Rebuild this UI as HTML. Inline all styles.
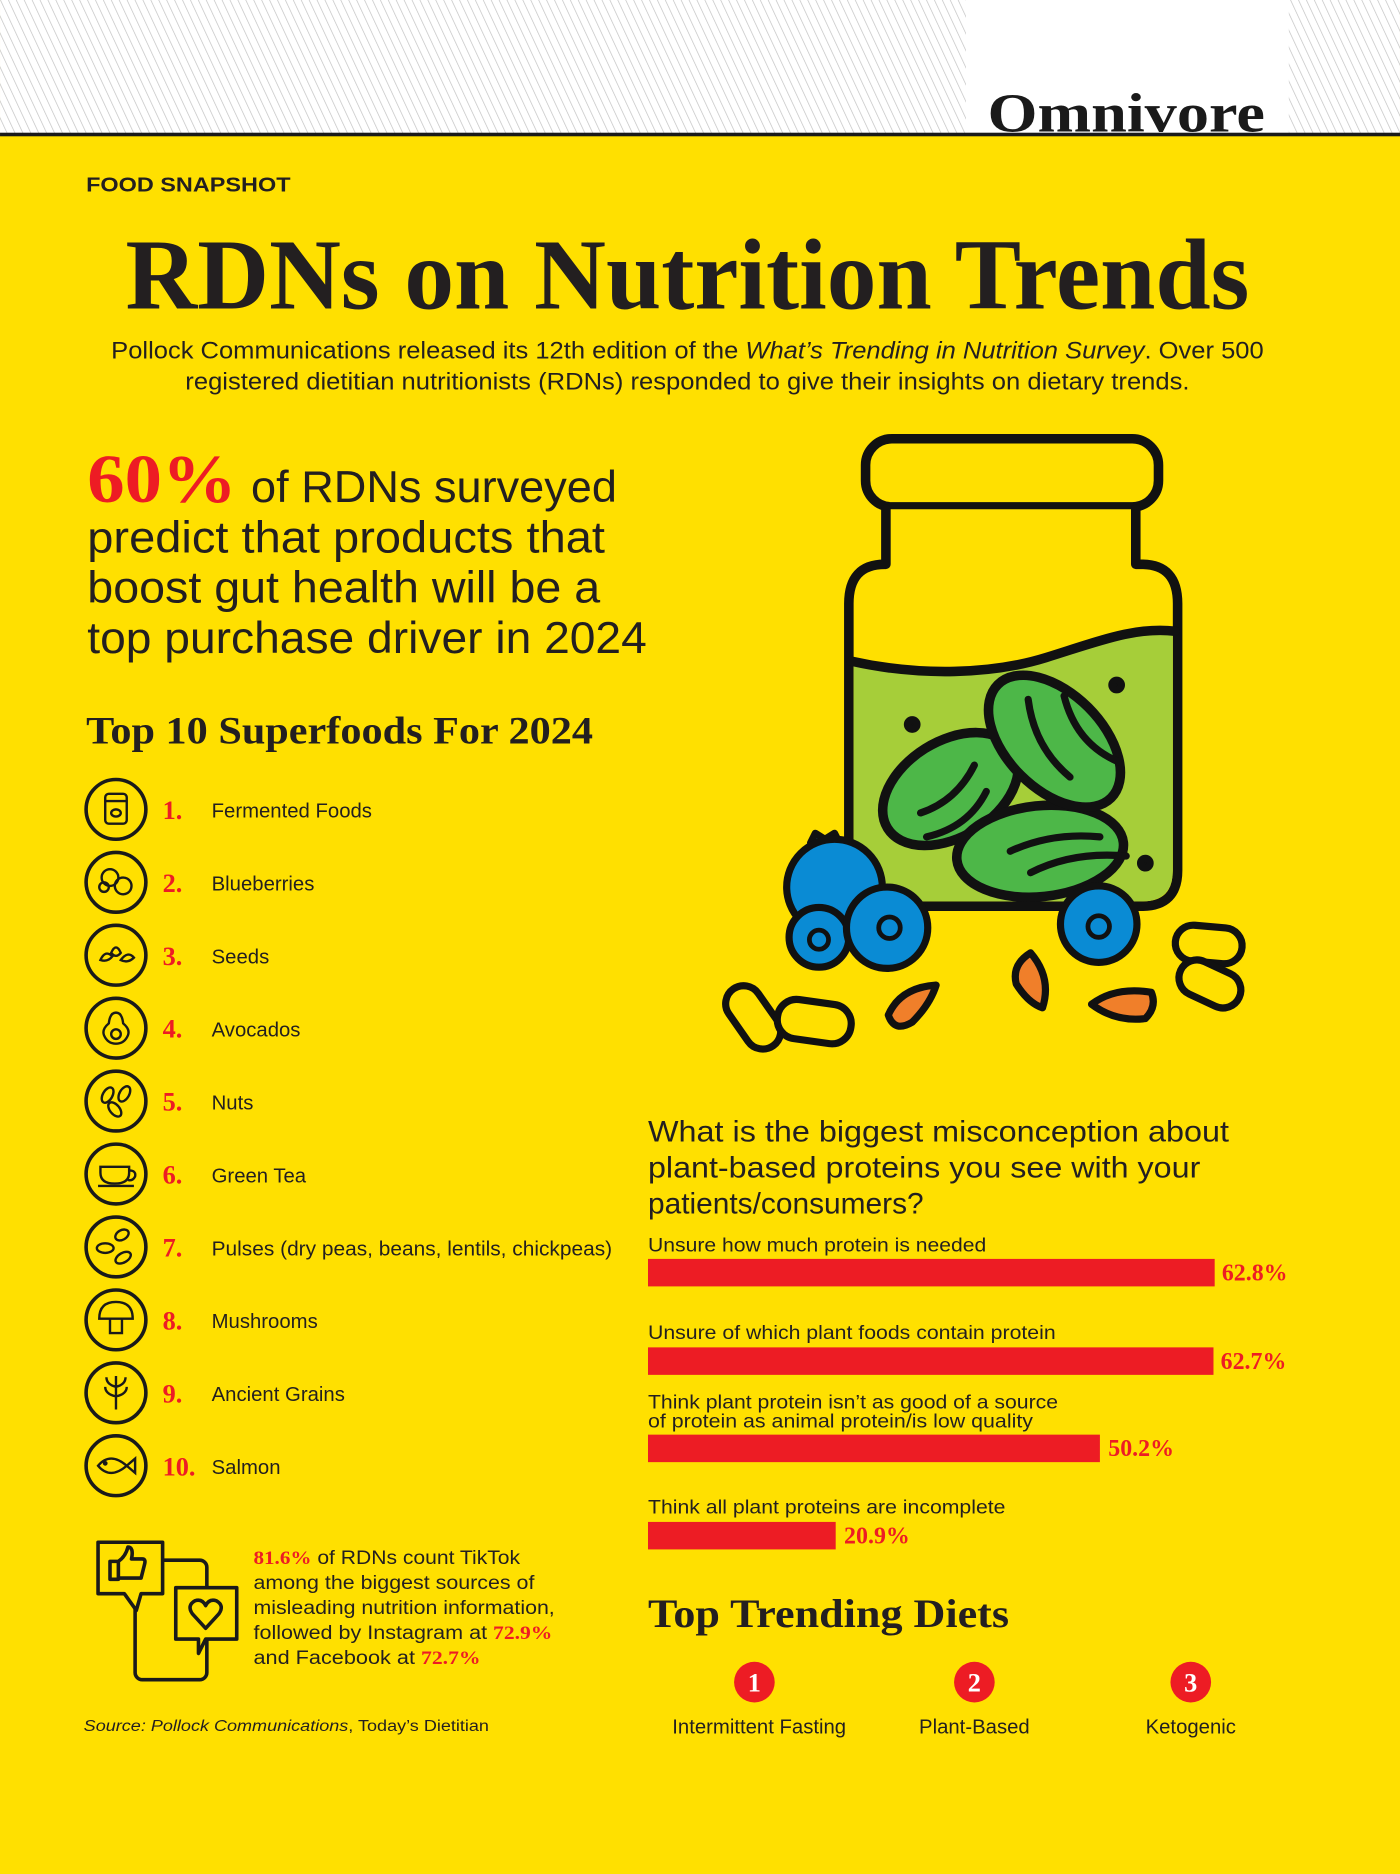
<!DOCTYPE html>
<html><head><meta charset="utf-8"><style>
html,body{margin:0;padding:0;background:#FFE000;}
svg{display:block}
.s{font-family:"Liberation Sans",sans-serif;fill:#231f20}
.sf{font-family:"Liberation Serif",serif;font-weight:bold}
.r{fill:#ED1C24}
</style></head><body>
<svg width="1400" height="1874" viewBox="0 0 1171 1567.5" xmlns="http://www.w3.org/2000/svg">
<defs>
<pattern id="st" width="6" height="6" patternUnits="userSpaceOnUse" patternTransform="rotate(-25)">
<rect width="6" height="6" fill="#fff"/><line x1="0" y1="0" x2="0" y2="6" stroke="#c4c4c4" stroke-width="1.2"/>
</pattern>
</defs>
<rect width="1171" height="1568" fill="#FFE000"/>
<rect width="1171" height="112" fill="url(#st)"/>
<rect x="808" y="0" width="270" height="112" fill="#fff"/>
<text x="826" y="110" class="sf" font-size="46" fill="#1a1a1a" textLength="232" lengthAdjust="spacingAndGlyphs">Omnivore</text>
<rect x="0" y="111" width="1171" height="3" fill="#1a1a1a"/>

<text x="72" y="160" class="s" font-size="17" font-weight="bold" textLength="171" lengthAdjust="spacingAndGlyphs">FOOD SNAPSHOT</text>
<text x="105" y="258" class="sf" font-size="84" fill="#231f20" textLength="940" lengthAdjust="spacingAndGlyphs">RDNs on Nutrition Trends</text>
<text x="93" y="300" class="s" font-size="20" textLength="964" lengthAdjust="spacingAndGlyphs">Pollock Communications released its 12th edition of the <tspan font-style="italic">What’s Trending in Nutrition Survey</tspan>. Over 500</text>
<text x="155" y="326" class="s" font-size="20" textLength="840" lengthAdjust="spacingAndGlyphs">registered dietitian nutritionists (RDNs) responded to give their insights on dietary trends.</text>

<text x="73" y="420" class="sf r" font-size="58" textLength="125" lengthAdjust="spacingAndGlyphs">60%</text>
<text x="210" y="420" class="s" font-size="37" textLength="306" lengthAdjust="spacingAndGlyphs">of RDNs surveyed</text>
<text x="73" y="462" class="s" font-size="37" textLength="433" lengthAdjust="spacingAndGlyphs">predict that products that</text>
<text x="73" y="504" class="s" font-size="37" textLength="429" lengthAdjust="spacingAndGlyphs">boost gut health will be a</text>
<text x="73" y="546" class="s" font-size="37" textLength="468" lengthAdjust="spacingAndGlyphs">top purchase driver in 2024</text>

<text x="72" y="622" class="sf" font-size="33" fill="#231f20" textLength="424" lengthAdjust="spacingAndGlyphs">Top 10 Superfoods For 2024</text>

<g stroke="#1a1a1a" stroke-width="3" fill="none">
<circle cx="97" cy="677" r="25"/><circle cx="97" cy="738" r="25"/><circle cx="97" cy="799" r="25"/><circle cx="97" cy="860" r="25"/><circle cx="97" cy="921" r="25"/><circle cx="97" cy="982" r="25"/><circle cx="97" cy="1043" r="25"/><circle cx="97" cy="1104" r="25"/><circle cx="97" cy="1165" r="25"/><circle cx="97" cy="1226" r="25"/>
<g stroke-width="2">
<rect x="88" y="664" width="18" height="25" rx="3"/><line x1="88" y1="670" x2="106" y2="670"/><ellipse cx="97" cy="680" rx="4" ry="3"/>
<circle cx="92" cy="734" r="7"/><circle cx="103" cy="741" r="7"/><circle cx="87" cy="742" r="4"/>
<path d="M84 803 q4 -9 10 -3 q-4 5 -10 3z M93 797 q4 -9 8 0 q-4 5 -8 0z M101 803 q6 -8 11 -2 q-5 5 -11 2z"/>
<path d="M97 847 q-5 0 -6 9 q-6 5 -4 10 q3 7 10 7 q7 0 10 -7 q2 -5 -4 -10 q-1 -9 -6 -9z"/><circle cx="97" cy="865" r="4"/>
<ellipse cx="90" cy="916" rx="4" ry="7" transform="rotate(30 90 916)"/><ellipse cx="104" cy="915" rx="4" ry="7" transform="rotate(30 104 915)"/><ellipse cx="96" cy="928" rx="4" ry="7" transform="rotate(-40 96 928)"/>
<path d="M84 976 h24 v5 q0 9 -12 9 q-12 0 -12 -9z M108 979 q6 0 5 5 q-2 4 -6 3"/><line x1="82" y1="992" x2="112" y2="992"/>
<ellipse cx="102" cy="1033" rx="6" ry="4" transform="rotate(-30 102 1033)"/><ellipse cx="88" cy="1044" rx="7" ry="4"/><ellipse cx="103" cy="1052" rx="7" ry="4" transform="rotate(-30 103 1052)"/>
<path d="M83 1103 q0 -14 14 -14 q14 0 14 14 z M92 1103 v12 h10 v-12"/>
<path d="M97 1151 v28 M97 1160 q-8 -2 -8 -8 M97 1160 q8 -2 8 -8 M97 1168 q-9 -2 -9 -8 M97 1168 q9 -2 9 -8"/>
<path d="M82 1226 q10 -12 24 0 q-14 12 -24 0z M106 1226 l7 -6 v12z"/><circle cx="88" cy="1224" r="1"/>
</g></g>

<g class="sf r" font-size="22">
<text x="136" y="685">1.</text><text x="136" y="746">2.</text><text x="136" y="807">3.</text><text x="136" y="868">4.</text><text x="136" y="929">5.</text><text x="136" y="990">6.</text><text x="136" y="1051">7.</text><text x="136" y="1112">8.</text><text x="136" y="1173">9.</text><text x="136" y="1234">10.</text>
</g>
<g class="s" font-size="17">
<text x="177" y="684">Fermented Foods</text><text x="177" y="745">Blueberries</text><text x="177" y="806">Seeds</text><text x="177" y="867">Avocados</text><text x="177" y="928">Nuts</text><text x="177" y="989">Green Tea</text>
<text x="177" y="1050" textLength="335" lengthAdjust="spacingAndGlyphs">Pulses (dry peas, beans, lentils, chickpeas)</text>
<text x="177" y="1111">Mushrooms</text><text x="177" y="1172">Ancient Grains</text><text x="177" y="1233">Salmon</text>
</g>

<!-- social icon -->
<g stroke="#1a1a1a" stroke-width="3" fill="none" stroke-linejoin="round">
<rect x="113" y="1305" width="60" height="100" rx="6"/>
<path d="M82 1290 h54 v43 h-18 l-4 14 l-10 -14 h-22z" fill="#FFE000"/>
<path d="M92 1306 h7 v15 h-7z M99 1306 q6 -4 8 -12 q5 0 3 10 h9 q3 0 2 4 l-3 12 h-19"/>
<path d="M147 1328 h51 v43 h-26 l-6 12 v-12 h-19z" fill="#FFE000"/>
<path d="M172 1362 l-11 -12 q-5 -7 2 -11 q6 -2 9 4 q3 -6 9 -4 q7 4 2 11z"/>
</g>
<g class="s" font-size="16">
<text x="212" y="1308" textLength="223" lengthAdjust="spacingAndGlyphs"><tspan class="sf r">81.6%</tspan> of RDNs count TikTok</text>
<text x="212" y="1329" textLength="235" lengthAdjust="spacingAndGlyphs">among the biggest sources of</text>
<text x="212" y="1350" textLength="252" lengthAdjust="spacingAndGlyphs">misleading nutrition information,</text>
<text x="212" y="1371" textLength="250" lengthAdjust="spacingAndGlyphs">followed by Instagram at <tspan class="sf r">72.9%</tspan></text>
<text x="212" y="1392" textLength="190" lengthAdjust="spacingAndGlyphs">and Facebook at <tspan class="sf r">72.7%</tspan></text>
</g>
<text x="70" y="1448" class="s" font-size="13.5" textLength="339" lengthAdjust="spacingAndGlyphs"><tspan font-style="italic">Source: Pollock Communications</tspan>, Today’s Dietitian</text>

<!-- jar -->
<g stroke="#111" stroke-width="8" stroke-linejoin="round" stroke-linecap="round">
<rect x="724" y="367" width="245" height="57" rx="22" fill="#FFE000"/>
<path d="M741 426 V472 H740 Q710,472 710,505 V728 Q710,758 740,758 H955 Q985,758 985,728 V505 Q985,472 955,472 H950 V426" fill="#FFE000"/>
<path d="M714 556 C770,568 830,566 875,552 C920,538 950,526 981,530 V728 Q981,754 955,754 H740 Q714,754 714,728 Z" fill="#A6CE39" stroke="none"/>
<path d="M712 553 C770,566 830,564 875,550 C920,536 950,524 983,528" fill="none"/>
<ellipse cx="795" cy="660" rx="62" ry="40" transform="rotate(-32 795 660)" fill="#4DB748"/>
<ellipse cx="870" cy="712" rx="70" ry="38" transform="rotate(-6 870 712)" fill="#4DB748"/>
<ellipse cx="882" cy="620" rx="67" ry="40" transform="rotate(45 882 620)" fill="#4DB748"/>
<g fill="none" stroke-width="6">
<path d="M770 680 q30 -10 45 -40"/><path d="M775 700 q35 -8 50 -38"/>
<path d="M860 585 q5 40 35 65"/><path d="M890 582 q10 40 45 55"/>
<path d="M845 712 q35 -16 75 -12"/><path d="M862 730 q35 -18 80 -14"/>
</g>
<circle cx="763" cy="606" r="3" fill="#111"/><circle cx="934" cy="573" r="3" fill="#111"/><circle cx="958" cy="722" r="3" fill="#111"/>
<g stroke-width="6" fill="#0A8BD4">
<path d="M678 705 l4 -8 l8 5 l8 -5 l4 8 z"/>
<circle cx="698" cy="742" r="40"/>
<circle cx="685" cy="784" r="25"/>
<circle cx="742" cy="776" r="34"/>
<circle cx="919" cy="773" r="32"/>
</g>
<g stroke-width="4" fill="none"><circle cx="685" cy="786" r="8"/><circle cx="744" cy="776" r="9"/><circle cx="919" cy="775" r="9"/></g>
<g stroke-width="6" fill="#F07F2A">
<path d="M783 824 q-30 2 -40 25 q5 15 20 6 q15 -15 20 -31z"/>
<path d="M862 797 q-16 10 -12 26 q10 16 22 20 q8 -25 -10 -46z"/>
<path d="M963 830 q-30 -5 -50 10 q20 15 45 12 q10 -10 5 -22z"/>
</g>
<g stroke-width="6" fill="#FFE000">
<rect x="615" y="822" width="30" height="58" rx="15" transform="rotate(-35 630 851)"/>
<rect x="650" y="838" width="62" height="33" rx="16" transform="rotate(8 681 855)"/>
<rect x="983" y="775" width="56" height="30" rx="15" transform="rotate(5 1011 790)"/>
<rect x="985" y="808" width="54" height="30" rx="15" transform="rotate(25 1012 823)"/>
</g>
</g>

<!-- question & bars -->
<g class="s" font-size="25">
<text x="542" y="955" textLength="486" lengthAdjust="spacingAndGlyphs">What is the biggest misconception about</text>
<text x="542" y="985" textLength="462" lengthAdjust="spacingAndGlyphs">plant-based proteins you see with your</text>
<text x="542" y="1015">patients/consumers?</text>
</g>
<g class="s" font-size="16.5">
<text x="542" y="1047" textLength="283" lengthAdjust="spacingAndGlyphs">Unsure how much protein is needed</text>
<text x="542" y="1120" textLength="341" lengthAdjust="spacingAndGlyphs">Unsure of which plant foods contain protein</text>
<text x="542" y="1178" textLength="343" lengthAdjust="spacingAndGlyphs">Think plant protein isn’t as good of a source</text>
<text x="542" y="1194" textLength="322" lengthAdjust="spacingAndGlyphs">of protein as animal protein/is low quality</text>
<text x="542" y="1266" textLength="299" lengthAdjust="spacingAndGlyphs">Think all plant proteins are incomplete</text>
</g>
<g fill="#ED1C24">
<rect x="542" y="1053" width="474" height="23"/>
<rect x="542" y="1127" width="473" height="23"/>
<rect x="542" y="1200" width="378" height="23"/>
<rect x="542" y="1273" width="157" height="23"/>
</g>
<g class="sf r" font-size="20">
<text x="1022" y="1071">62.8%</text><text x="1021" y="1145">62.7%</text><text x="927" y="1218">50.2%</text><text x="706" y="1291">20.9%</text>
</g>

<text x="542" y="1361" class="sf" font-size="34" fill="#231f20" textLength="302" lengthAdjust="spacingAndGlyphs">Top Trending Diets</text>
<g fill="#ED1C24"><circle cx="631" cy="1407" r="17"/><circle cx="815" cy="1407" r="17"/><circle cx="996" cy="1407" r="17"/></g>
<g class="sf" font-size="22" fill="#fff" text-anchor="middle"><text x="631" y="1415">1</text><text x="815" y="1415">2</text><text x="996" y="1415">3</text></g>
<g class="s" font-size="17" text-anchor="middle"><text x="635" y="1450">Intermittent Fasting</text><text x="815" y="1450">Plant-Based</text><text x="996" y="1450">Ketogenic</text></g>
</svg>
</body></html>
